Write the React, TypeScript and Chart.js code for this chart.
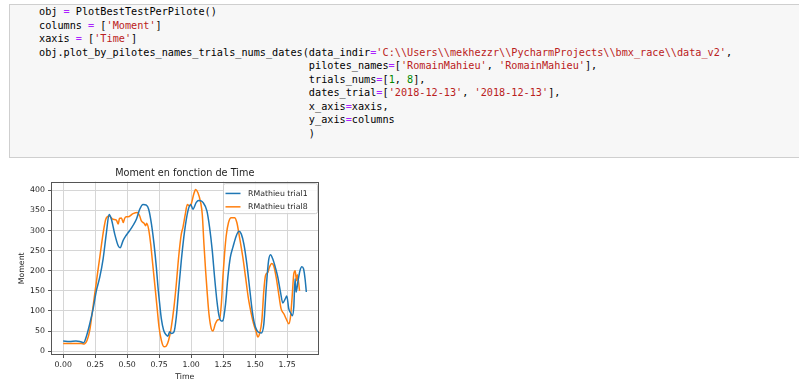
import React, { useEffect, useRef } from "react";
import { Chart, registerables } from "chart.js";

Chart.register(...registerables);

// ---- data ----
const chartTitle = "Moment en fonction de Time";
const xTitle = "Time";
const yTitle = "Moment";
const seriesLabels = ["RMathieu trial1", "RMathieu trial8"];
const seriesColors = ["#1f77b4", "#ff7f0e"];
const xTicks = [0, 0.25, 0.5, 0.75, 1.0, 1.25, 1.5, 1.75];
const yTicks = [0, 50, 100, 150, 200, 250, 300, 350, 400];

const trial1Time = [
  0.0, 0.05, 0.1, 0.13, 0.16, 0.18, 0.208, 0.234, 0.26, 0.286, 0.312, 0.338, 0.359, 0.377, 0.403, 0.43,
  0.445, 0.468, 0.49, 0.52, 0.545, 0.572, 0.598, 0.624, 0.65, 0.668, 0.69, 0.71, 0.728, 0.741, 0.754,
  0.767, 0.785, 0.806, 0.818, 0.832, 0.845, 0.866, 0.884, 0.902, 0.923, 0.949, 0.975, 0.996, 1.014, 1.04,
  1.058, 1.075, 1.092, 1.123, 1.144, 1.165, 1.183, 1.201, 1.217, 1.236, 1.248, 1.269, 1.287, 1.306, 1.326,
  1.353, 1.373, 1.392, 1.412, 1.435, 1.456, 1.477, 1.495, 1.521, 1.548, 1.568, 1.587, 1.605, 1.62, 1.638,
  1.657, 1.677, 1.698, 1.716, 1.735, 1.747, 1.763, 1.781, 1.79, 1.802, 1.812, 1.82, 1.835, 1.85, 1.865,
  1.878, 1.89, 1.9,
];
const trial1Moment = [
  25, 24, 25, 24, 21, 35, 68, 105, 151, 184, 229, 295, 340, 328, 291, 262,
  257, 275, 287, 300, 312, 328, 353, 365, 363, 353, 316, 266, 209, 159, 118,
  81, 52, 40, 37, 48, 44, 48, 85, 151, 225, 299, 349, 365, 353, 370,
  375, 374, 370, 349, 308, 250, 184, 126, 89, 75, 76, 118, 184, 233, 258,
  287, 298, 291, 266, 217, 159, 101, 68, 48, 45, 68, 159, 225, 240, 229,
  209, 184, 147, 120, 130, 137, 105, 93, 88, 110, 180, 147, 175, 200, 210,
  205, 180, 147,
];

const trial8Time = [
  0.0, 0.05, 0.1, 0.14, 0.165, 0.187, 0.208, 0.226, 0.247, 0.268, 0.286, 0.3, 0.317, 0.333, 0.359, 0.39,
  0.416, 0.43, 0.44, 0.455, 0.47, 0.48, 0.494, 0.507, 0.546, 0.58, 0.598, 0.611, 0.632, 0.645, 0.652,
  0.668, 0.684, 0.697, 0.71, 0.723, 0.736, 0.749, 0.767, 0.788, 0.806, 0.824, 0.845, 0.866, 0.884, 0.902,
  0.923, 0.936, 0.954, 0.97, 0.988, 1.0, 1.02, 1.035, 1.053, 1.074, 1.087, 1.1, 1.113, 1.126, 1.139,
  1.157, 1.17, 1.189, 1.209, 1.222, 1.236, 1.248, 1.261, 1.274, 1.292, 1.313, 1.339, 1.357, 1.378, 1.404,
  1.425, 1.446, 1.47, 1.488, 1.508, 1.521, 1.534, 1.552, 1.568, 1.581, 1.599, 1.612, 1.63, 1.646, 1.664,
  1.682, 1.703, 1.724, 1.743, 1.763, 1.776, 1.789, 1.802, 1.813, 1.823, 1.83, 1.847,
];
const trial8Moment = [
  19, 19, 19, 19, 18, 27, 52, 93, 143, 192, 233, 266, 303, 328, 336, 328,
  326, 316, 330, 331, 320, 330, 334, 334, 342, 345, 336, 324, 318, 312, 318,
  303, 266, 225, 184, 143, 101, 60, 27, 11, 13, 27, 60, 110, 167, 233,
  291, 308, 340, 365, 361, 365, 390, 402, 394, 370, 340, 266, 200, 143, 93,
  56, 50, 68, 78, 80, 118, 184, 242, 287, 320, 332, 332, 320, 283, 233,
  184, 134, 93, 68, 48, 35, 43, 75, 151, 188, 196, 209, 218, 211, 184,
  147, 105, 93, 80, 68, 85, 135, 192, 200, 175, 190, 150,
];

// ---- code cell text ----
const OP = "#aa22ff";
const STR = "#ba2121";
const NUM = "#008800";
const DEF = "#000000";
const indent = " ".repeat(44);
const pathStr = "'C:\\\\Users\\\\mekhezzr\\\\PycharmProjects\\\\bmx_race\\\\data_v2'";
const codeLines: [string, string][][] = [
  [["obj ", DEF], ["=", OP], [" PlotBestTestPerPilote()", DEF]],
  [["columns ", DEF], ["=", OP], [" [", DEF], ["'Moment'", STR], ["]", DEF]],
  [["xaxis ", DEF], ["=", OP], [" [", DEF], ["'Time'", STR], ["]", DEF]],
  [["obj.plot_by_pilotes_names_trials_nums_dates(data_indir", DEF], ["=", OP], [pathStr, STR], [",", DEF]],
  [[indent + "pilotes_names", DEF], ["=", OP], ["[", DEF], ["'RomainMahieu'", STR], [", ", DEF], ["'RomainMahieu'", STR], ["],", DEF]],
  [[indent + "trials_nums", DEF], ["=", OP], ["[", DEF], ["1", NUM], [", ", DEF], ["8", NUM], ["],", DEF]],
  [[indent + "dates_trial", DEF], ["=", OP], ["[", DEF], ["'2018-12-13'", STR], [", ", DEF], ["'2018-12-13'", STR], ["],", DEF]],
  [[indent + "x_axis", DEF], ["=", OP], ["xaxis,", DEF]],
  [[indent + "y_axis", DEF], ["=", OP], ["columns", DEF]],
  [[indent + ")", DEF]],
];

const FONT = "DejaVu Sans";
const TEXT_COLOR = "#1e1e1e";
const GRID_COLOR = "#d6d6d6";
const FRAME_COLOR = "#555555";

const framePlugin = {
  id: "frame",
  afterDraw(chart: any) {
    const { ctx, chartArea: a } = chart;
    ctx.save();
    ctx.strokeStyle = FRAME_COLOR;
    ctx.lineWidth = 1;
    ctx.strokeRect(Math.round(a.left) + 0.5, Math.round(a.top) + 0.5, Math.round(a.right - a.left) - 1, Math.round(a.bottom - a.top) - 1);
    ctx.restore();
  },
};

const legendPlugin = {
  id: "mplLegend",
  afterDraw(chart: any) {
    const { ctx, chartArea: a } = chart;
    const w = 94;
    const h = 30;
    const x = a.right - 1.5 - w;
    const y = a.top + 1.5;
    ctx.save();
    ctx.beginPath();
    (ctx as any).roundRect(x + 0.5, y + 0.5, w, h, 2);
    ctx.fillStyle = "rgba(255,255,255,0.85)";
    ctx.fill();
    ctx.strokeStyle = "#d0d0d0";
    ctx.lineWidth = 1;
    ctx.stroke();
    ctx.font = `7.8px "${FONT}"`;
    ctx.textBaseline = "middle";
    ctx.textAlign = "left";
    chart.data.datasets.forEach((ds: any, i: number) => {
      const ry = y + 10.3 + i * 13.4;
      ctx.beginPath();
      ctx.moveTo(x + 2.5, ry);
      ctx.lineTo(x + 17.5, ry);
      ctx.strokeStyle = ds.borderColor;
      ctx.lineWidth = 1.5;
      ctx.stroke();
      ctx.fillStyle = TEXT_COLOR;
      ctx.fillText(ds.label, x + 25, ry + 0.5);
    });
    ctx.restore();
  },
};

function MomentChart() {
  const ref = useRef<HTMLCanvasElement | null>(null);
  useEffect(() => {
    if (!ref.current) return;
    const toPts = (ts: number[], vs: number[]) => ts.map((t, i) => ({ x: t, y: vs[i] }));
    const tickFont = { family: FONT, size: 7.8 };
    const chart = new Chart(ref.current, {
      type: "line",
      data: {
        datasets: [
          {
            label: seriesLabels[0],
            data: toPts(trial1Time, trial1Moment),
            borderColor: seriesColors[0],
            backgroundColor: seriesColors[0],
            borderWidth: 1.5,
            pointRadius: 0,
            cubicInterpolationMode: "monotone",
            fill: false,
          },
          {
            label: seriesLabels[1],
            data: toPts(trial8Time, trial8Moment),
            borderColor: seriesColors[1],
            backgroundColor: seriesColors[1],
            borderWidth: 1.5,
            pointRadius: 0,
            cubicInterpolationMode: "monotone",
            fill: false,
          },
        ],
      },
      options: {
        animation: false,
        responsive: false,
        maintainAspectRatio: false,
        layout: { padding: { left: 0, right: 11.5, top: 0, bottom: 0 } },
        plugins: {
          legend: { display: false },
          tooltip: { enabled: false },
          title: {
            display: true,
            text: chartTitle,
            fullSize: false,
            color: TEXT_COLOR,
            font: { family: FONT, size: 9.7, weight: "normal" },
            padding: { top: 7.2, bottom: 2.8 },
          },
        },
        scales: {
          x: {
            type: "linear",
            min: -0.095,
            max: 1.995,
            afterBuildTicks: (s: any) => {
              s.ticks = xTicks.map((v) => ({ value: v }));
            },
            afterFit: (s: any) => {
              s.height = 27;
            },
            ticks: {
              callback: (v: any) => Number(v).toFixed(2),
              font: tickFont,
              color: TEXT_COLOR,
              padding: 2,
              maxRotation: 0,
              autoSkip: false,
            },
            grid: { color: GRID_COLOR, tickLength: 3, tickColor: FRAME_COLOR, lineWidth: 1 },
            border: { display: false },
            title: { display: true, text: xTitle, color: TEXT_COLOR, font: tickFont, padding: { top: 0, bottom: 0 } },
          },
          y: {
            type: "linear",
            min: -9.6,
            max: 421.6,
            afterBuildTicks: (s: any) => {
              s.ticks = yTicks.map((v) => ({ value: v }));
            },
            afterFit: (s: any) => {
              s.width = 51;
            },
            ticks: { font: tickFont, color: TEXT_COLOR, padding: 3, autoSkip: false },
            grid: { color: GRID_COLOR, tickLength: 3, tickColor: FRAME_COLOR, lineWidth: 1 },
            border: { display: false },
            title: { display: true, text: yTitle, color: TEXT_COLOR, font: tickFont, padding: { top: 16.9, bottom: 0 } },
          },
        },
      } as any,
      plugins: [framePlugin, legendPlugin],
    });
    return () => chart.destroy();
  }, []);
  return (
    <canvas
      ref={ref}
      width={330}
      height={222}
      style={{ position: "absolute", left: 0, top: 160, width: 330, height: 222 }}
    />
  );
}

export default function App() {
  return (
    <div
      style={{
        position: "absolute",
        left: 0,
        top: 0,
        width: 799,
        height: 382,
        overflow: "hidden",
        background: "#ffffff",
      }}
    >
      <div
        style={{
          position: "absolute",
          left: 9,
          top: 4,
          width: 820,
          height: 152,
          border: "1px solid #cfcfcf",
          background: "#f7f7f7",
        }}
      />
      <pre
        style={{
          position: "absolute",
          left: 39,
          top: 5,
          margin: 0,
          fontFamily: '"DejaVu Sans Mono", monospace',
          fontSize: "10.2px",
          lineHeight: "13.5px",
          color: DEF,
          whiteSpace: "pre",
        }}
      >
        {codeLines.map((line, i) => (
          <div key={i}>
            {line.map(([t, c], j) => (
              <span key={j} style={{ color: c }}>
                {t}
              </span>
            ))}
          </div>
        ))}
      </pre>
      <MomentChart />
    </div>
  );
}
